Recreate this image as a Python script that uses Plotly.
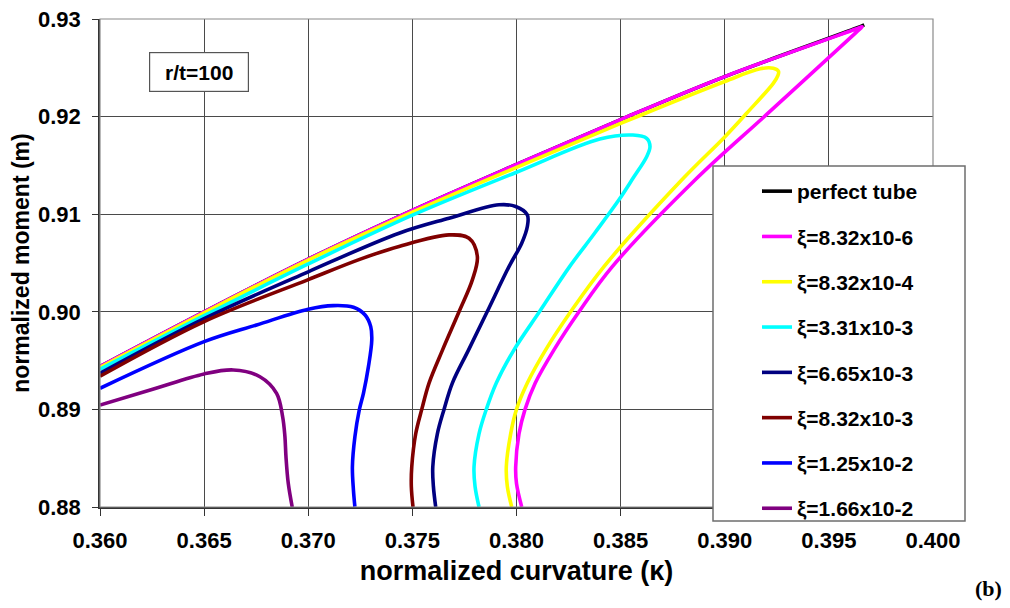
import plotly.graph_objects as go

# ---- data ----
labels = ["perfect tube", "ξ=8.32x10-6", "ξ=8.32x10-4", "ξ=3.31x10-3",
          "ξ=6.65x10-3", "ξ=8.32x10-3", "ξ=1.25x10-2", "ξ=1.66x10-2"]
colors = ["#000000", "#FF00FF", "#FFFF00", "#00FFFF",
          "#000080", "#800000", "#0000FF", "#800080"]

perfect_x = [0.360, 0.365, 0.370, 0.375, 0.380, 0.385, 0.390, 0.3963, 0.3967]
perfect_y = [0.8944, 0.9000, 0.9054, 0.9104, 0.9151, 0.9197, 0.9241, 0.92905, 0.9294]

xi1_x = [0.360, 0.365, 0.370, 0.375, 0.380, 0.385, 0.390, 0.3963, 0.3966, 0.3963,
         0.3920, 0.38857, 0.3846, 0.3830, 0.3818, 0.3809, 0.38041,
         0.38012, 0.37996, 0.3800, 0.38025]
xi1_y = [0.8944, 0.9000, 0.9054, 0.9104, 0.9151, 0.9197, 0.9241, 0.92897, 0.9292, 0.92861,
         0.9202, 0.9135, 0.90463, 0.9000, 0.8961, 0.8927, 0.8900,
         0.8875, 0.8841, 0.8824, 0.8800]

xi2_x = [0.360, 0.365, 0.370, 0.375, 0.380, 0.385, 0.3900, 0.3917, 0.39233, 0.39258,
         0.39255, 0.39233, 0.39105, 0.39001, 0.38793, 0.3842, 0.3826,
         0.3814, 0.38052, 0.3800, 0.37972, 0.37951, 0.37956, 0.37977]
xi2_y = [0.8943, 0.8999, 0.9053, 0.9102, 0.9148, 0.9193, 0.9236, 0.9249, 0.92495, 0.92465,
         0.92420, 0.92341, 0.92034, 0.91794, 0.9135, 0.90463, 0.9000,
         0.8961, 0.8927, 0.8900, 0.8875, 0.8841, 0.8821, 0.8800]

xi3_x = [0.360, 0.365, 0.370, 0.375, 0.380, 0.3840, 0.38559, 0.38625, 0.38641,
         0.38625, 0.3856, 0.38492, 0.38375, 0.38255, 0.38110, 0.37988, 0.37903,
         0.37855, 0.3782, 0.37796, 0.37801, 0.3782]
xi3_y = [0.8941, 0.8996, 0.9049, 0.9099, 0.9143, 0.9177, 0.91811, 0.91777, 0.91692,
         0.91589, 0.9137, 0.91147, 0.90805, 0.90463, 0.9000, 0.8961, 0.8927,
         0.8900, 0.8875, 0.8841, 0.8821, 0.8800]

xi4_x = [0.360, 0.365, 0.370, 0.37436, 0.37676, 0.37916, 0.37996, 0.38052, 0.38052,
         0.38025, 0.37964, 0.37859, 0.37770, 0.37692, 0.37652, 0.3762, 0.37598,
         0.37601, 0.37612]
xi4_y = [0.8937, 0.8993, 0.9041, 0.90805, 0.90959, 0.91096, 0.91079, 0.90993, 0.90874,
         0.90703, 0.90463, 0.9000, 0.8961, 0.8927, 0.8900, 0.8875, 0.8841,
         0.8821, 0.8800]

xi5_x = [0.360, 0.365, 0.370, 0.3725, 0.37436, 0.37676, 0.37772, 0.37812, 0.37788,
         0.37724, 0.37645, 0.3758, 0.37545, 0.37516, 0.37497, 0.37495, 0.37503]
xi5_y = [0.8934, 0.8990, 0.9033, 0.9054, 0.9067, 0.90788, 0.90754, 0.90566, 0.90327,
         0.9000, 0.8961, 0.8927, 0.8900, 0.8875, 0.8841, 0.8821, 0.8800]

xi6_x = [0.360, 0.365, 0.36752, 0.370, 0.37120, 0.37217, 0.37273, 0.37300, 0.37305,
         0.37289, 0.37265, 0.37245, 0.37224, 0.37212, 0.37217, 0.37224]
xi6_y = [0.89216, 0.89694, 0.89865, 0.90026, 0.90063, 0.90046, 0.89967, 0.89848, 0.89711,
         0.89438, 0.89165, 0.88994, 0.88720, 0.88413, 0.88174, 0.88003]

xi7_x = [0.360, 0.36253, 0.365, 0.3664, 0.36768, 0.36848, 0.36877, 0.36888, 0.36893,
         0.36904, 0.36923]
xi7_y = [0.89045, 0.89206, 0.89363, 0.89404, 0.89335, 0.89165, 0.88925, 0.88720, 0.88515,
         0.88243, 0.88000]

series_x = [perfect_x, xi1_x, xi2_x, xi3_x, xi4_x, xi5_x, xi6_x, xi7_x]
series_y = [perfect_y, xi1_y, xi2_y, xi3_y, xi4_y, xi5_y, xi6_y, xi7_y]

x_ticks = [0.360, 0.365, 0.370, 0.375, 0.380, 0.385, 0.390, 0.395, 0.400]
x_ticktext = ["0.360", "0.365", "0.370", "0.375", "0.380", "0.385", "0.390", "0.395", "0.400"]
y_ticks = [0.88, 0.89, 0.90, 0.91, 0.92, 0.93]
y_ticktext = ["0.88", "0.89", "0.90", "0.91", "0.92", "0.93"]

FONT = "Liberation Sans, Arial, sans-serif"

fig = go.Figure()
for i, (lab, col, xs, ys) in enumerate(zip(labels, colors, series_x, series_y)):
    fig.add_trace(go.Scatter(
        x=xs, y=ys, mode="lines", name=lab, legendgroup=f"g{i}",
        line=dict(color=col, width=3.6, shape="spline", smoothing=1.0),
        cliponaxis=True,
    ))

# page body adds an 8px offset; work in window pixels and convert
OFF = 8
W, H = 1010 - OFF, 608 - OFF
L, R, T, B = 100 - OFF, 77, 19 - OFF, 101
pw, ph = W - L - R, H - T - B

def px_x(p):  # window pixel -> paper x
    return (p - OFF - L) / pw

def px_y(p):  # window pixel -> paper y
    return (H - B - (p - OFF)) / ph

fig.update_layout(
    width=W, height=H,
    margin=dict(l=L, r=R, t=T, b=B, autoexpand=False),
    paper_bgcolor="white", plot_bgcolor="white",
    font=dict(family=FONT, color="black"),
    showlegend=True,
    legend=dict(
        xref="container", yref="container",
        x=(757 - OFF) / W, y=1 - (171 - OFF) / H, xanchor="left", yanchor="top",
        bgcolor="rgba(0,0,0,0)", borderwidth=0, maxheight=560,
        font=dict(family=FONT, size=21, color="black", weight="bold"),
        tracegroupgap=15, itemwidth=30,
    ),
    xaxis=dict(
        range=[0.360, 0.400], tickvals=x_ticks, ticktext=x_ticktext,
        showgrid=True, gridcolor="#4a4a4a", gridwidth=1, automargin=False,
        showline=True, linecolor="#333333", linewidth=1.5, mirror=False,
        ticks="outside", ticklen=7, tickcolor="#333333", ticklabelstandoff=6,
        ticklabeloverflow="allow",
        tickfont=dict(family=FONT, size=22, weight="bold"),
        title=dict(text="<b>normalized curvature (κ)</b>", font=dict(family=FONT, size=27), standoff=9),
        zeroline=False,
    ),
    yaxis=dict(
        range=[0.880, 0.930], tickvals=y_ticks, ticktext=y_ticktext,
        showgrid=True, gridcolor="#4a4a4a", gridwidth=1, automargin=False,
        showline=True, linecolor="#333333", linewidth=1.5, mirror=False,
        ticks="outside", ticklen=6, tickcolor="#333333", ticklabelstandoff=7,
        ticklabeloverflow="allow",
        tickfont=dict(family=FONT, size=22, weight="bold"),
        title=dict(text="<b>normalized moment (m)</b>", font=dict(family=FONT, size=23), standoff=2),
        zeroline=False,
    ),
    shapes=[
        dict(type="rect", xref="paper", yref="paper", x0=0, x1=1, y0=0, y1=1,
             line=dict(color="#8a8a8a", width=1.2), layer="above"),
        dict(type="rect", xref="paper", yref="paper",
             x0=px_x(713), x1=px_x(965), y0=px_y(521), y1=px_y(166),
             line=dict(color="#6e6e6e", width=1.5), fillcolor="white", layer="above"),
    ],
    annotations=[
        dict(text="<b>r/t=100</b>", xref="paper", yref="paper",
             x=px_x(199), y=px_y(71.5), xanchor="center", yanchor="middle",
             showarrow=False, font=dict(family=FONT, size=21, color="black"),
             bgcolor="white", bordercolor="#555555", borderwidth=1.2, borderpad=7,
             width=84, height=24),
        dict(text="<b>(b)</b>", xref="paper", yref="paper",
             x=px_x(988), y=px_y(588), xanchor="center", yanchor="middle",
             showarrow=False, font=dict(family="Liberation Serif, Times New Roman, serif", size=22, color="black")),
    ],
)

fig.write_html("out.html")
